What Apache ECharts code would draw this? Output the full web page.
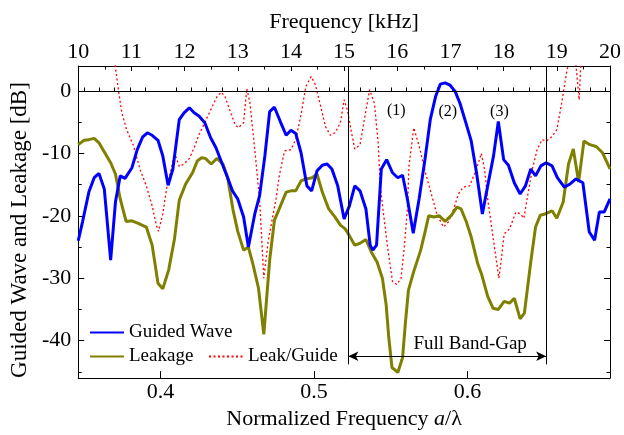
<!DOCTYPE html>
<html><head><meta charset="utf-8">
<script src="https://cdn.jsdelivr.net/npm/echarts@6/dist/echarts.min.js"></script>
<style>html,body{margin:0;padding:0;background:#fff}#c{width:624px;height:435px}</style>
</head><body><div id="c"></div>
<script>
// [frequency kHz, dB]
const guidedWave = [[10.00,-24],[10.08,-21.0],[10.20,-16.2],[10.30,-13.9],[10.39,-13.2],[10.49,-15.7],[10.61,-27.1],[10.70,-17.8],[10.79,-13.6],[10.88,-14.0],[11.01,-12.3],[11.11,-9.4],[11.21,-7.4],[11.30,-6.7],[11.39,-7.1],[11.50,-7.9],[11.59,-10.4],[11.69,-15.1],[11.78,-12.5],[11.90,-4.6],[11.99,-3.5],[12.09,-2.7],[12.18,-3.5],[12.27,-4.0],[12.38,-5.1],[12.49,-7.5],[12.59,-9.1],[12.70,-11.5],[12.81,-13.9],[12.90,-16.0],[13.00,-17.3],[13.11,-20.2],[13.20,-25.0],[13.32,-19.7],[13.41,-16.8],[13.51,-10.4],[13.60,-3.3],[13.69,-2.6],[13.80,-4.9],[13.91,-7.1],[14.00,-6.3],[14.09,-6.8],[14.19,-9.9],[14.30,-15.2],[14.39,-16.0],[14.49,-12.8],[14.59,-11.9],[14.68,-11.7],[14.77,-12.5],[14.88,-15.2],[15.00,-20.5],[15.10,-18.4],[15.20,-15.2],[15.30,-16.0],[15.41,-18.9],[15.49,-24.7],[15.54,-25.5],[15.61,-24.7],[15.70,-12.5],[15.80,-11.0],[15.91,-13.1],[16.01,-13.9],[16.10,-13.5],[16.19,-17.3],[16.30,-22.8],[16.41,-17.3],[16.52,-11.0],[16.62,-4.6],[16.72,-0.9],[16.81,1.1],[16.90,1.3],[16.99,0.95],[17.09,-0.1],[17.18,-2.0],[17.30,-5.4],[17.39,-8.0],[17.49,-13.1],[17.60,-19.7],[17.70,-15.2],[17.81,-10.4],[17.90,-4.9],[18.00,-11.0],[18.09,-11.9],[18.20,-14.7],[18.31,-16.5],[18.41,-15.2],[18.51,-12.5],[18.60,-13.6],[18.70,-12.0],[18.80,-11.5],[18.91,-12.0],[19.01,-13.9],[19.14,-15.4],[19.25,-14.9],[19.36,-14.1],[19.49,-14.7],[19.61,-22.6],[19.71,-23.9],[19.80,-19.4],[19.89,-19.4],[20.00,-17.3]];
const leakage = [[10.00,-8.6],[10.11,-7.9],[10.20,-7.8],[10.30,-7.6],[10.39,-8.3],[10.48,-9.6],[10.61,-11.5],[10.70,-13.3],[10.79,-17.3],[10.90,-20.9],[11.01,-20.8],[11.13,-21.2],[11.28,-21.8],[11.39,-24.7],[11.50,-30.8],[11.59,-31.7],[11.70,-28.7],[11.81,-23.7],[11.90,-17.5],[12.02,-14.9],[12.15,-13.1],[12.24,-11.2],[12.32,-10.7],[12.39,-10.8],[12.50,-11.7],[12.61,-10.8],[12.72,-11.7],[12.81,-13.9],[12.91,-19.0],[13.00,-22.5],[13.11,-25.5],[13.20,-25.0],[13.29,-27.9],[13.39,-31.6],[13.49,-39.0],[13.60,-27.1],[13.69,-20.7],[13.78,-18.9],[13.91,-16.2],[14.00,-16.0],[14.09,-16.0],[14.19,-14.4],[14.28,-14.1],[14.40,-13.9],[14.49,-13.3],[14.59,-16.2],[14.71,-18.9],[14.83,-20.2],[14.93,-21.5],[15.02,-22.1],[15.08,-22.9],[15.20,-24.7],[15.30,-24.4],[15.41,-23.8],[15.51,-25.8],[15.62,-27.4],[15.72,-30.0],[15.79,-34.2],[15.84,-39.5],[15.90,-44.3],[16.01,-45.1],[16.10,-42.7],[16.15,-37.4],[16.21,-31.9],[16.31,-28.9],[16.44,-25.5],[16.53,-22.3],[16.59,-20.0],[16.69,-20.2],[16.79,-20.0],[16.90,-20.9],[17.02,-19.9],[17.12,-18.6],[17.20,-18.9],[17.30,-21.0],[17.39,-23.4],[17.51,-27.6],[17.59,-29.5],[17.70,-32.9],[17.80,-34.8],[17.90,-35.0],[18.01,-33.7],[18.11,-34.0],[18.20,-33.2],[18.31,-36.5],[18.39,-35.6],[18.51,-27.4],[18.60,-21.8],[18.69,-19.9],[18.78,-19.7],[18.91,-19.2],[19.00,-20.4],[19.12,-17.8],[19.22,-11.7],[19.31,-9.3],[19.41,-14.6],[19.51,-8.0],[19.62,-8.6],[19.74,-8.9],[19.86,-9.9],[20.00,-12.5]];
const leakGuide = [[10.57,12],[10.76,-0.1],[10.82,-3.5],[10.91,-6.2],[11.04,-8.8],[11.16,-12.5],[11.28,-15.2],[11.39,-18.4],[11.47,-21.5],[11.51,-22.5],[11.59,-19.7],[11.67,-15.2],[11.75,-12.5],[11.81,-9.9],[11.90,-12.1],[11.99,-11.7],[12.09,-10.8],[12.18,-9.1],[12.27,-7.0],[12.39,-4.9],[12.52,-2.5],[12.61,-0.9],[12.69,-0.2],[12.76,-0.9],[12.86,-3.3],[12.95,-5.4],[13.01,-5.9],[13.11,-5.1],[13.17,0.4],[13.23,-2.0],[13.32,-9.4],[13.41,-17.3],[13.49,-30.0],[13.57,-24.2],[13.66,-20.0],[13.72,-17.3],[13.78,-13.6],[13.88,-9.6],[14.00,-9.4],[14.09,-7.8],[14.19,-3.8],[14.28,0.7],[14.38,2.3],[14.46,1.0],[14.56,-2.5],[14.65,-5.7],[14.74,-7.1],[14.83,-6.7],[14.93,-5.1],[15.00,-1.4],[15.06,-3.0],[15.14,-6.7],[15.20,-9.3],[15.30,-8.6],[15.39,-4.1],[15.48,0.2],[15.57,-2.0],[15.64,-8.3],[15.68,-15.2],[15.73,-18.9],[15.82,-25.2],[15.91,-30.5],[15.99,-31.0],[16.07,-30.0],[16.13,-25.2],[16.19,-18.9],[16.22,-12.0],[16.31,-5.9],[16.41,-8.8],[16.53,-13.1],[16.65,-16.8],[16.75,-19.9],[16.87,-21.8],[16.96,-21.0],[17.06,-18.9],[17.15,-16.5],[17.24,-15.4],[17.36,-15.2],[17.49,-12.5],[17.58,-10.0],[17.64,-12.5],[17.70,-17.3],[17.83,-25.2],[17.91,-30.0],[17.95,-27.4],[18.01,-22.9],[18.11,-22.1],[18.23,-19.4],[18.32,-19.7],[18.38,-20.4],[18.44,-17.3],[18.54,-12.5],[18.63,-9.4],[18.72,-7.8],[18.81,-8.0],[18.91,-7.3],[19.00,-6.2],[19.09,-2.0],[19.17,2.3],[19.25,6],[19.34,6],[19.42,-1.4],[19.46,6],[19.56,12]];

// tick values
const bottomMajorTicks = [0.4, 0.5, 0.6];
const bottomMinorTicks = [0.35,0.36,0.37,0.38,0.39,0.41,0.42,0.43,0.44,0.45,0.46,0.47,0.48,0.49,0.51,0.52,0.53,0.54,0.55,0.56,0.57,0.58,0.59,0.61,0.62,0.63,0.64,0.65,0.66,0.67,0.68,0.69];
const yMajorTicks = [-40, -30, -20, -10, 0];
const yMinorTicks = [-45, -35, -25, -15, -5];

// annotations [kHz, dB, text]
const modeLabels = [[15.98,-3.2,'(1)'],[16.95,-3.3,'(2)'],[17.92,-3.3,'(3)']];
const bandGapEdges = [15.08, 18.80];
const bandGapArrowDb = -42.5;
const bandGapLineBottomDb = -43.8;
const bandGapText = [17.37, -40.6, 'Full Band-Gap'];

const FONT = 'Liberation Serif';
const BLACK = '#000';
const Y_MIN = -46, Y_MAX = 4;
const A_MIN = 0.3464, A_MAX = 0.6928;

function hiddenLabel(){ return {show:false}; }
const legendBase = {padding:0, itemWidth:34, itemHeight:14, selectedMode:false,
  itemStyle:{color:'transparent', borderColor:'transparent', borderWidth:0, opacity:0},
  textStyle:{fontFamily:FONT, fontSize:19, color:BLACK}};

const chart = echarts.init(document.getElementById('c'), null, {renderer:'canvas'});
const option = {
  animation: false,
  backgroundColor: '#fff',
  grid: {left: 74, right: 10.5, top: 66, bottom: 54, containLabel: false},
  xAxis: [
    {type:'value', position:'bottom', min:A_MIN, max:A_MAX,
     axisLine:{show:true, onZero:false, lineStyle:{color:BLACK, width:1}},
     axisTick:{show:true, inside:true, length:7, customValues:bottomMajorTicks, lineStyle:{color:BLACK}},
     axisLabel:{show:true, customValues:bottomMajorTicks, formatter:v=>Number(v).toFixed(1), margin:3, fontFamily:FONT, fontSize:22, color:BLACK},
     splitLine:{show:false},
     name:'Normalized Frequency {i|a}/λ', nameLocation:'middle', nameGap:28,
     nameTextStyle:{fontFamily:FONT, fontSize:22, color:BLACK, rich:{i:{fontFamily:FONT, fontSize:22, fontStyle:'italic', color:BLACK}}}},
    {type:'value', position:'bottom', min:A_MIN, max:A_MAX,
     axisLine:{show:false}, axisTick:{show:true, inside:true, length:3.5, customValues:bottomMinorTicks, lineStyle:{color:BLACK}},
     axisLabel:hiddenLabel(), splitLine:{show:false}},
    {type:'value', position:'top', min:10, max:20, interval:1,
     axisLine:{show:true, onZero:false, lineStyle:{color:BLACK, width:1}},
     axisTick:{show:true, inside:true, length:5, lineStyle:{color:BLACK}},
     minorTick:{show:true, splitNumber:2, length:3.5, lineStyle:{color:BLACK}},
     axisLabel:{show:true, margin:3, fontFamily:FONT, fontSize:22, color:BLACK},
     splitLine:{show:false}, minorSplitLine:{show:false},
     name:'Frequency [kHz]', nameLocation:'middle', nameGap:33,
     nameTextStyle:{fontFamily:FONT, fontSize:22, color:BLACK}}
  ],
  yAxis: [
    {type:'value', position:'left', min:Y_MIN, max:Y_MAX,
     axisLine:{show:true, onZero:false, lineStyle:{color:BLACK, width:1}},
     axisTick:{show:true, inside:true, length:6, customValues:yMajorTicks, lineStyle:{color:BLACK}},
     axisLabel:{show:true, customValues:yMajorTicks, margin:7, fontFamily:FONT, fontSize:22, color:BLACK},
     splitLine:{show:false},
     name:'Guided Wave and Leakage [dB]', nameLocation:'middle', nameGap:42,
     nameTextStyle:{fontFamily:FONT, fontSize:23, color:BLACK, padding:[0,16,0,0]}},
    {type:'value', position:'left', min:Y_MIN, max:Y_MAX,
     axisLine:{show:false}, axisTick:{show:true, inside:true, length:3.5, customValues:yMinorTicks, lineStyle:{color:BLACK}},
     axisLabel:hiddenLabel(), splitLine:{show:false}},
    {type:'value', position:'right', min:Y_MIN, max:Y_MAX,
     axisLine:{show:true, onZero:false, lineStyle:{color:BLACK, width:1}},
     axisTick:{show:true, inside:true, length:6, customValues:yMajorTicks, lineStyle:{color:BLACK}},
     axisLabel:hiddenLabel(), splitLine:{show:false}},
    {type:'value', position:'right', min:Y_MIN, max:Y_MAX,
     axisLine:{show:false}, axisTick:{show:true, inside:true, length:3.5, customValues:yMinorTicks, lineStyle:{color:BLACK}},
     axisLabel:hiddenLabel(), splitLine:{show:false}}
  ],
  legend: [
    Object.assign({data:['Guided Wave'], left:89, top:323}, legendBase),
    Object.assign({data:['Leakage'], left:89, top:347}, legendBase),
    Object.assign({data:['Leak/Guide'], left:208, top:347}, legendBase)
  ],
  series: [
    {name:'Leak/Guide', type:'line', xAxisIndex:2, yAxisIndex:0, data:leakGuide,
     symbol:'none', showSymbol:false, clip:true, color:'#ff0000',
     lineStyle:{color:'#ff0000', width:1.3, type:[2,2.5]}, z:2},
    {name:'Leakage', type:'line', xAxisIndex:2, yAxisIndex:0, data:leakage,
     symbol:'none', showSymbol:false, clip:true, color:'#808000',
     lineStyle:{color:'#808000', width:3}, z:3},
    {name:'Guided Wave', type:'line', xAxisIndex:2, yAxisIndex:0, data:guidedWave,
     symbol:'none', showSymbol:false, clip:true, color:'#0000ff',
     lineStyle:{color:'#0000ff', width:3}, z:4},
    {name:'notes', type:'scatter', xAxisIndex:2, yAxisIndex:0, silent:true, symbolSize:0, z:5,
     itemStyle:{opacity:1},
     data: modeLabels.map(d=>({value:d}))
       .concat([{value:bandGapText, label:{fontSize:19}}]),
     label:{show:true, position:'inside', formatter:p=>p.value[2], fontFamily:FONT, fontSize:16, color:'#000', opacity:1},
     markLine:{silent:true, symbol:['none','none'], symbolSize:[7,10], animation:false,
       lineStyle:{color:BLACK, width:1, type:'solid'}, label:{show:false}, emphasis:{disabled:true},
       data:[
         {yAxis:0},
         [{coord:[bandGapEdges[0], Y_MAX]},{coord:[bandGapEdges[0], bandGapLineBottomDb]}],
         [{coord:[bandGapEdges[1], Y_MAX]},{coord:[bandGapEdges[1], bandGapLineBottomDb]}],
         [{coord:[bandGapEdges[0], bandGapArrowDb], symbol:'arrow'},{coord:[bandGapEdges[1], bandGapArrowDb], symbol:'arrow'}]
       ]}}
  ]
};
chart.setOption(option);
</script></body></html>
